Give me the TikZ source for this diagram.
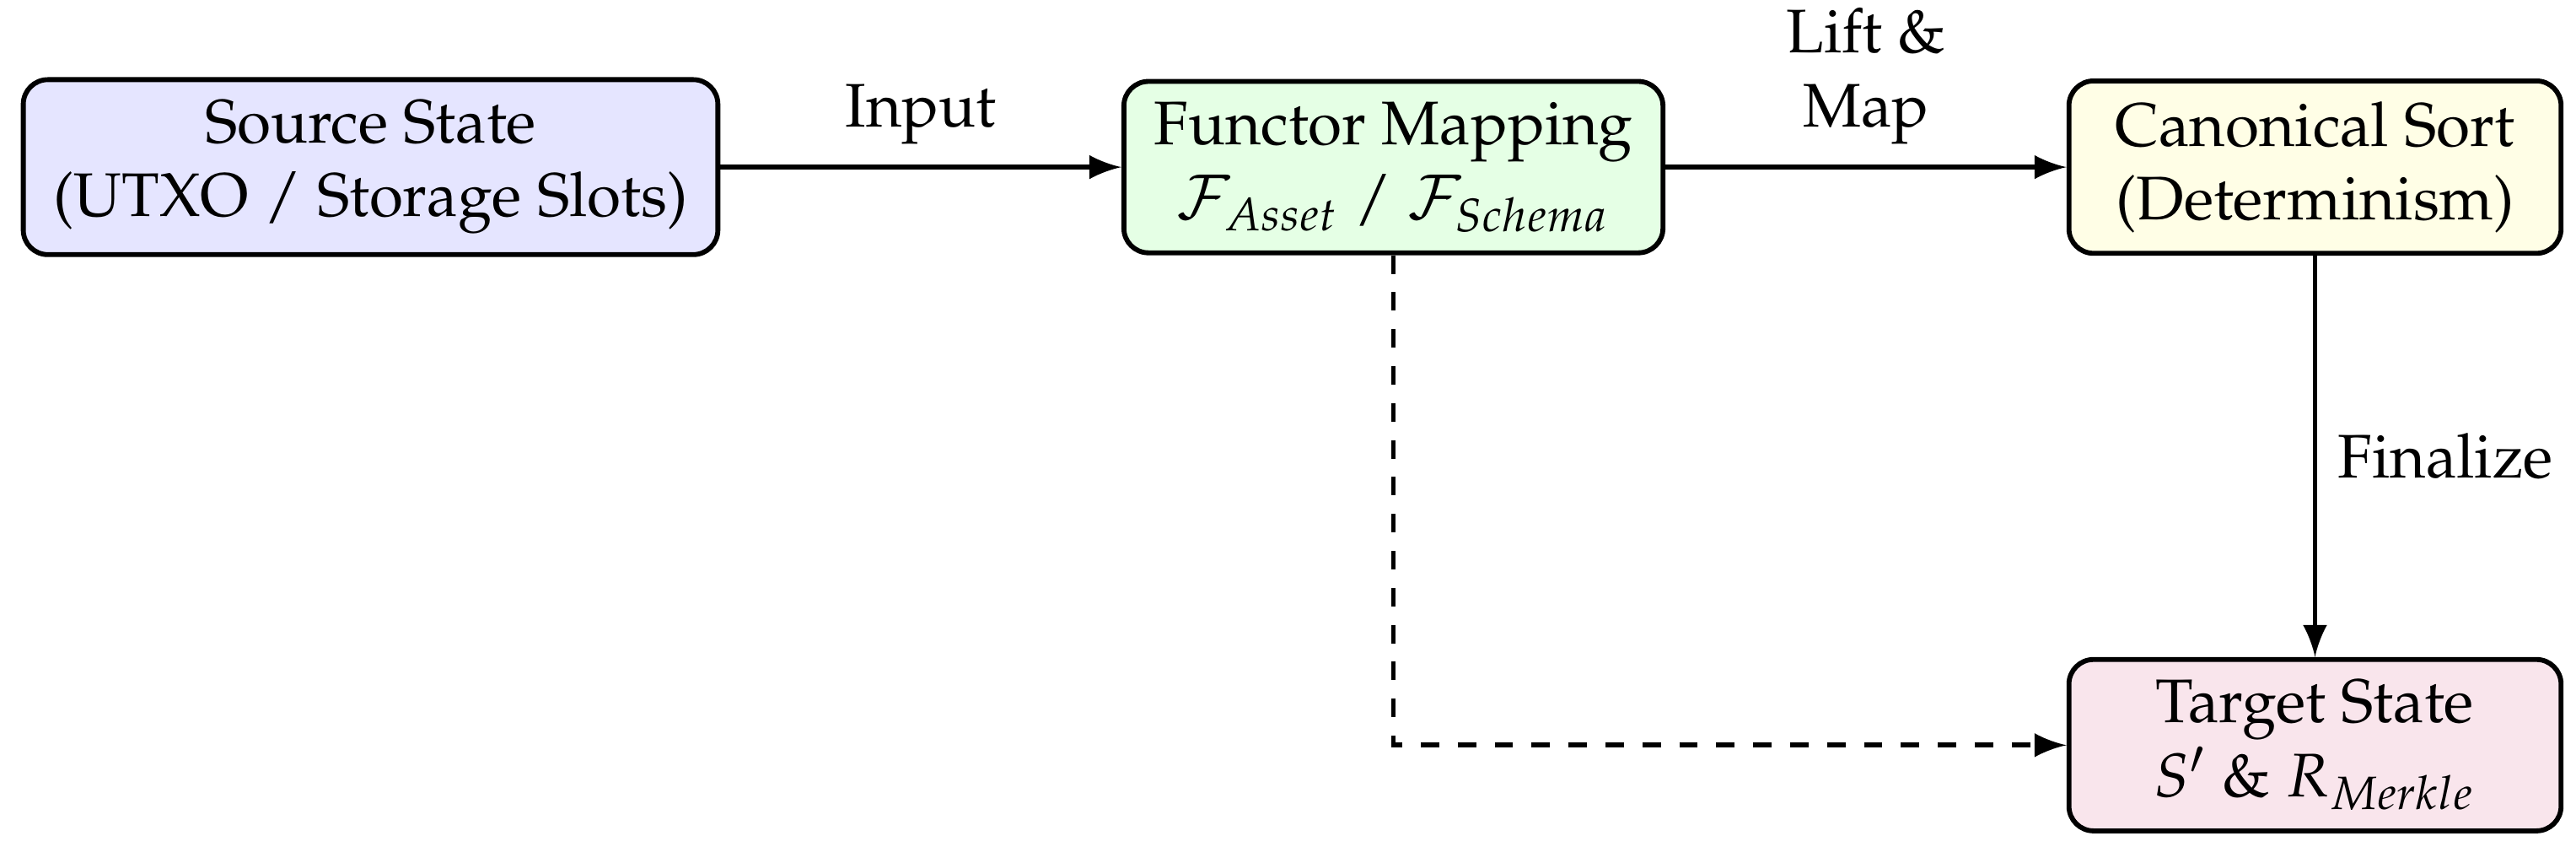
\documentclass[tikz,border=0pt]{standalone}
\usepackage[T1]{fontenc}
\usepackage{mathpazo}
\usepackage{xcolor}
\usepackage{tikz}
\usetikzlibrary{positioning,shapes,arrows,calc}

\begin{document}
\begin{tikzpicture}[>=latex, thick,
		block/.style={draw, rounded corners, align=center, inner xsep=4.9pt, minimum width=2.81cm},
		link/.style={->, thick}]

		\useasboundingbox (0,0) rectangle (14.709,4.921);

		\node[block, fill=blue!10] (source) at (2.116,3.967) {Source State\\(UTXO / Storage Slots)};
		\node[block, fill=green!10, right=2.29cm of source] (functor) {Functor Mapping\\$\mathcal{F}_{Asset}$ / $\mathcal{F}_{Schema}$};
		\node[block, fill=yellow!10, right=2.29cm of functor] (sort) {Canonical Sort\\(Determinism)};
		\node[block, fill=purple!10, below=2.29cm of sort] (target) {Target State\\$S'$ \& $R_{Merkle}$};

		\draw[link] (source) -- node[above] {Input} (functor);
		\draw[link] (functor) -- node[above, align=center] {Lift \&\\Map} (sort);
		\draw[link] (sort) -- node[right] {Finalize} (target);
		\draw[link, dashed] (functor.south) |- (target.west);
	\end{tikzpicture}
\end{document}
